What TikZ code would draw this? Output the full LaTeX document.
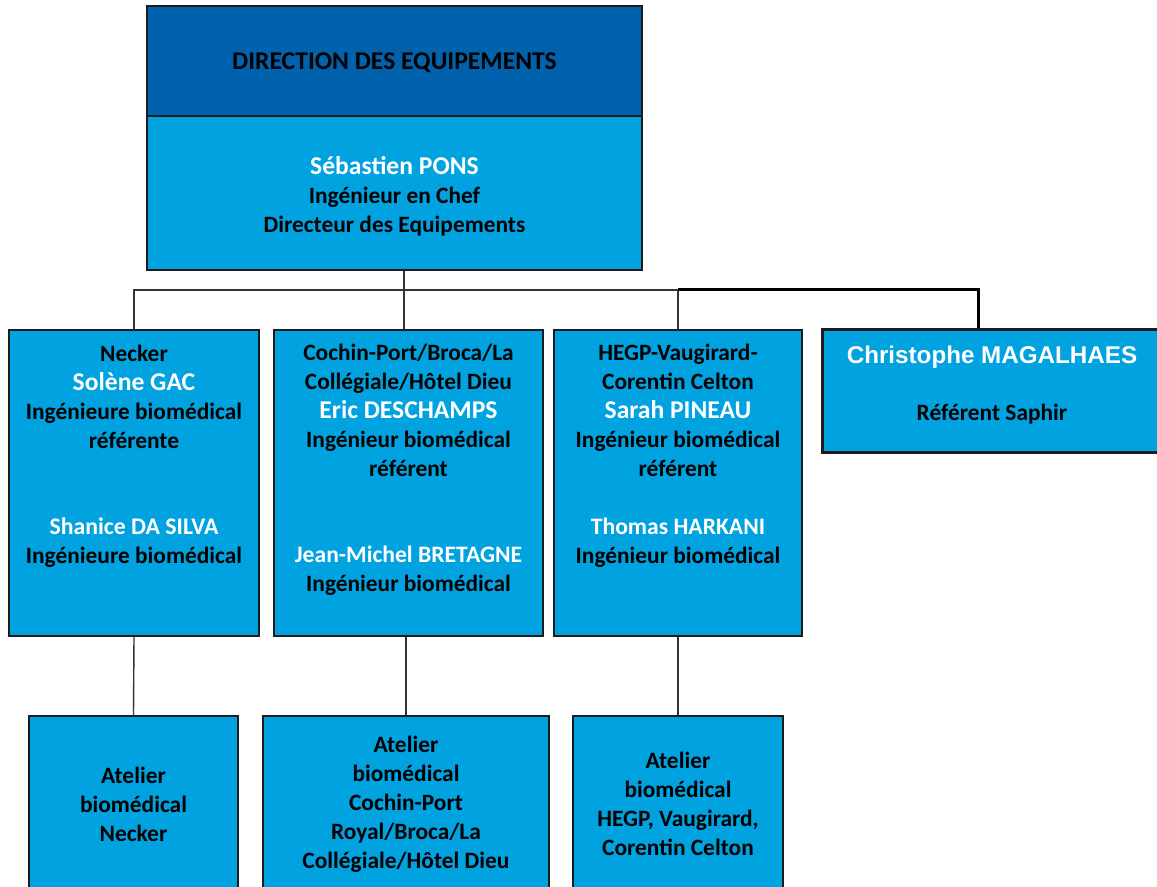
\documentclass[tikz,border=0pt]{standalone}
\usepackage{fontspec}
\setmainfont{Carlito}
\newfontfamily\arialfont{Liberation Sans}
\usetikzlibrary{positioning}

\definecolor{dirblue}{HTML}{0062AC}
\definecolor{boxblue}{HTML}{00A2DF}
\definecolor{edge}{HTML}{1C1C1C}

\tikzset{
  unit/.style={draw=edge, line width=1pt, fill=boxblue, inner sep=0pt},
  txt/.style={align=center, font=\fontsize{11.7}{14.5}\selectfont\bfseries, text=black},
  link/.style={draw=black!80, line width=0.7pt},
}
\newcommand{\who}[2][12.8]{{\fontsize{#1}{14.5}\selectfont\color{white}#2}}

\begin{document}
\begin{tikzpicture}[x=0.5pt,y=-0.5pt]
\useasboundingbox (0,0) rectangle (1157,887);
\clip (0,0) rectangle (1157,887);
% Draw top boxes
\node[unit, fill=dirblue, minimum width=247.5pt, minimum height=55pt] (dir) at (394.5,61) {};
\node[txt, font=\fontsize{12.8}{14.5}\selectfont\bfseries] (dir-txt) at ([yshift=-1pt]dir.center) {DIRECTION DES EQUIPEMENTS};
\node[unit, minimum width=247.5pt, minimum height=77pt] (chef) at (394.5,193) {};
\node[txt] (chef-txt) at ([yshift=-1.75pt]chef.center) {\who{Sébastien PONS}\\Ingénieur en Chef\\Directeur des Equipements};
% Draw site boxes
\node[unit, minimum width=125pt, minimum height=153pt] (necker) at (134,483) {};
\node[txt] (necker-txt) at ([yshift=13.5pt]necker.center) {Necker\\\who{Solène GAC}\\Ingénieure biomédical\\référente\\[28.5pt]\who[11.9]{Shanice DA SILVA}\\Ingénieure biomédical};
\node[unit, minimum width=134.5pt, minimum height=153pt] (cochin) at (408.5,483) {};
\node[txt] (cochin-txt) at ([yshift=6.5pt]cochin.center) {Cochin-Port/Broca/La\\Collégiale/Hôtel Dieu\\\who{Eric DESCHAMPS}\\Ingénieur biomédical\\référent\\[28.5pt]\who[11.8]{Jean-Michel BRETAGNE}\\Ingénieur biomédical};
\node[unit, minimum width=124pt, minimum height=153pt] (hegp) at (678,483) {};
\node[txt] (hegp-txt) at ([yshift=13.5pt]hegp.center) {HEGP-Vaugirard-\\Corentin Celton\\\who{Sarah PINEAU}\\Ingénieur biomédical\\référent\\[14.5pt]\who[11.8]{Thomas HARKANI}\\Ingénieur biomédical};
\node[unit, line width=1.5pt, minimum width=170pt, minimum height=61.5pt] (saphir) at (992,391.5) {};
\node[txt] (saphir-txt) at ([yshift=3pt]saphir.center) {{\arialfont\fontsize{12.1}{14.5}\selectfont\color{white}Christophe MAGALHAES}\\[14pt]Référent Saphir};
% Draw workshop boxes
\node[unit, txt, minimum width=104.5pt, minimum height=88pt] (necker-at) at (133.5,804) {Atelier\\biomédical\\Necker};
\node[unit, txt, minimum width=143pt, minimum height=88pt] (cochin-at) at (406,804) {Atelier\\biomédical\\Cochin-Port\\Royal/Broca/La\\Collégiale/Hôtel Dieu};
\node[unit, txt, minimum width=105pt, minimum height=88pt] (hegp-at) at (678,804) {Atelier\\biomédical\\HEGP, Vaugirard,\\Corentin Celton};
% Draw links
\coordinate (bus) at (404,290);
\coordinate (saphir-in) at ([xshift=-7pt]saphir.north);
\draw[link] (chef.south -| bus) -- (bus |- cochin.north);
\draw[link] (necker.north) -- (necker.north |- bus) -- (hegp.north |- bus) -- (hegp.north);
\draw[link, draw=black, line width=1.5pt] (hegp.north |- bus) -- (saphir-in |- bus) -- (saphir-in);
\draw[link] (necker.south) -- (necker-at.north);
\draw[link] (cochin-at.north |- cochin.south) -- (cochin-at.north);
\draw[link] (hegp.south) -- (hegp-at.north);
\end{tikzpicture}
\end{document}
